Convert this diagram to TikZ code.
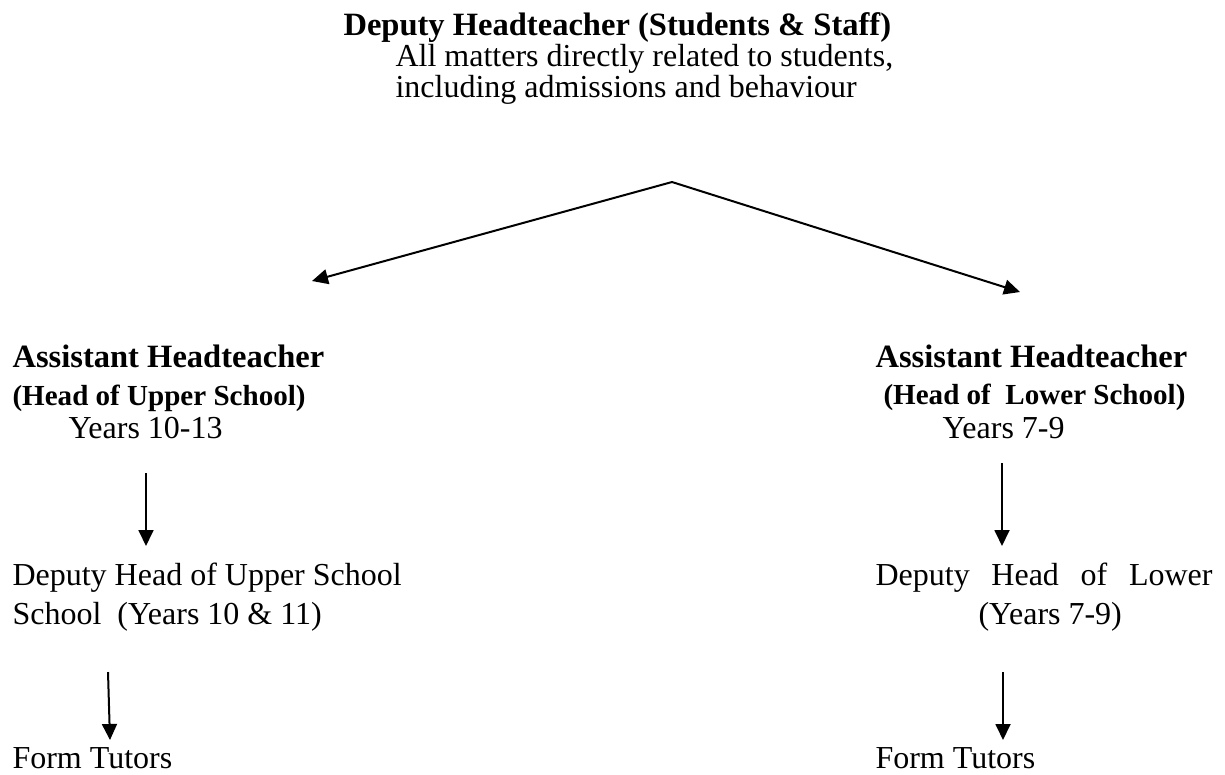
\documentclass[tikz,border=0pt]{standalone}
\usepackage{fontspec}
\setmainfont{Liberation Serif}
\usetikzlibrary{arrows.meta}

\begin{document}
\begin{tikzpicture}[x=0.375pt, y=-0.375pt,
    txt/.style={anchor=base west, inner sep=0pt, font=\fontsize{12}{14}\selectfont},
    bold/.style={txt, font=\fontsize{12.2}{14}\selectfont\bfseries},
    sub/.style={txt, font=\fontsize{10.9}{13}\selectfont\bfseries},
    link/.style={-{Triangle[width=5.6pt,length=6pt]}, line width=0.75pt}]
    \useasboundingbox (0,0) rectangle (1225,774);
    \node[bold] (dh) at (343,35) {Deputy Headteacher (Students \& Staff)};
    \node[txt] (dhA) at (395,66) {All matters directly related to students,};
    \node[txt] (dhB) at (395,97) {including admissions and behaviour};
    \node[bold] (upHead) at (12,367) {Assistant Headteacher};
    \node[sub] (upSub) at (12,405) {(Head of Upper School)};
    \node[txt] (upYears) at (68,438) {Years 10-13};
    \node[txt] (upDep) at (12,585) {Deputy Head of Upper School};
    \node[txt] (upDepB) at (12,624) {School\ \ (Years 10 \& 11)};
    \node[txt] (upForm) at (12,768) {Form Tutors};
    \node[bold] (lowHead) at (875,367) {Assistant Headteacher};
    \node[sub] (lowSub) at (883,404) {(Head of\ \ Lower School)};
    \node[txt] (lowYears) at (942,438) {Years 7-9};
    \node[txt] (lowDep) at (875,585) {\makebox[126.4pt][s]{Deputy Head of Lower}};
    \node[txt] (lowDepB) at (978,624) {(Years 7-9)};
    \node[txt] (lowForm) at (875,768) {Form Tutors};
    \coordinate (apex) at (672,182);
    \coordinate (upTip) at (312,281);
    \coordinate (lowTip) at (1020,292);
    \coordinate (upA1) at (146,473);
    \coordinate (upA2) at (146,546);
    \coordinate (upB1) at (108,672);
    \coordinate (upB2) at (110,740);
    \coordinate (lowA1) at (1002,463);
    \coordinate (lowA2) at (1002,546);
    \coordinate (lowB1) at (1003,672);
    \coordinate (lowB2) at (1003,740);
    \foreach \a/\b in {apex/upTip, apex/lowTip, upA1/upA2, upB1/upB2, lowA1/lowA2, lowB1/lowB2}
        \draw[link] (\a) -- (\b);
\end{tikzpicture}
\end{document}
